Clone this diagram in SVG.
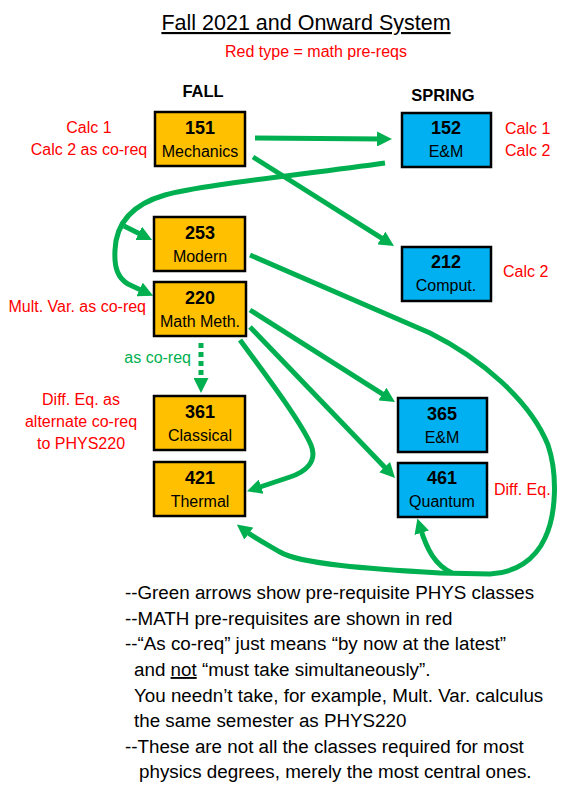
<svg xmlns="http://www.w3.org/2000/svg" width="569" height="789" viewBox="0 0 569 789">
<style>
text{font-family:"Liberation Sans",Arial,sans-serif}
.box rect{stroke:#000;stroke-width:2.5}
.fall rect{fill:#FFC000}
.spring rect{fill:#00B0F0}
.num{font-weight:bold;font-size:18px;text-anchor:middle;fill:#000}
.lbl{font-size:16px;text-anchor:middle;fill:#000}
.red{font-size:16px;fill:#FF0000}
.hdr{font-weight:bold;font-size:16.5px;text-anchor:middle}
.note{font-size:18.8px;fill:#000}
.conn path{fill:none;stroke:#00B050;stroke-width:5;marker-end:url(#ah)}
</style>
<defs>
<marker id="ah" viewBox="0 0 10 10" refX="4" refY="5" markerWidth="3" markerHeight="3" orient="auto">
<path d="M0,0 L10,5 L0,10 z" fill="#00B050"/>
</marker>
</defs>
<rect width="569" height="789" fill="#fff"/>
<text x="306" y="30" font-size="21.5" text-anchor="middle" text-decoration="underline">Fall 2021 and Onward System</text>
<text x="316" y="57" class="red" font-size="15.5" text-anchor="middle">Red type = math pre-reqs</text>
<text x="203" y="97" class="hdr">FALL</text>
<text x="443" y="101" class="hdr">SPRING</text>

<g id="conn" class="conn">
<path d="M255,138 L383,139"/>
<path d="M253,157 L386.4,241.2"/>
<path d="M385,163 C300,175 200,185 165,195 C130,205 116,225 115,250 C114,268 118,278 128,284 L145,292"/>
<path d="M124,226 L144,236"/>
<path d="M250,310 L387.4,397.2"/>
<path d="M250,327 L388.8,471.5"/>
<path d="M240,340 C262,370 300,420 311,445 C318,462 305,472 290,477 L255.5,488.5"/>
<path d="M250,255 L430,333 C480,358 530,400 548,445 C558,475 556,515 545,538 C535,560 515,573 490,574 L440,573 C370,569 300,564 280,552 C270,546 256,539 244,530"/>
<path d="M452,573 C435,565 427,550 420,527"/>
<path d="M201,343 L201,384" stroke-dasharray="5 4"/>
</g>

<g id="n151" class="box fall"><rect x="155" y="112" width="90" height="54"/><text x="200" y="134" class="num">151</text><text x="200" y="157" class="lbl">Mechanics</text></g>
<g id="n253" class="box fall"><rect x="154" y="217" width="91" height="54"/><text x="200" y="239" class="num">253</text><text x="200" y="262" class="lbl">Modern</text></g>
<g id="n220" class="box fall"><rect x="154" y="282" width="92" height="54"/><text x="200" y="304" class="num">220</text><text x="200" y="327" class="lbl">Math Meth.</text></g>
<g id="n361" class="box fall"><rect x="154" y="396" width="91" height="54"/><text x="200" y="418" class="num">361</text><text x="200" y="441" class="lbl">Classical</text></g>
<g id="n421" class="box fall"><rect x="154" y="462" width="91" height="54"/><text x="200" y="484" class="num">421</text><text x="200" y="507" class="lbl">Thermal</text></g>
<g id="n152" class="box spring"><rect x="402" y="113" width="89" height="54"/><text x="446" y="134" class="num">152</text><text x="446" y="157" class="lbl">E&amp;M</text></g>
<g id="n212" class="box spring"><rect x="402" y="247" width="89" height="54"/><text x="446" y="268" class="num">212</text><text x="446" y="291" class="lbl">Comput.</text></g>
<g id="n365" class="box spring"><rect x="398" y="398" width="89" height="54"/><text x="442" y="420" class="num">365</text><text x="442" y="443" class="lbl">E&amp;M</text></g>
<g id="n461" class="box spring"><rect x="398" y="463" width="89" height="54"/><text x="442" y="484" class="num">461</text><text x="442" y="507" class="lbl">Quantum</text></g>

<g id="mathlabels">
<text x="89" y="133" class="red" text-anchor="middle">Calc 1</text>
<text x="89" y="155" class="red" text-anchor="middle">Calc 2 as co-req</text>
<text x="505" y="134" class="red">Calc 1</text>
<text x="505" y="156" class="red">Calc 2</text>
<text x="503" y="277" class="red">Calc 2</text>
<text x="146" y="312" class="red" text-anchor="end">Mult. Var. as co-req</text>
<text x="81" y="405" class="red" text-anchor="middle">Diff. Eq. as</text>
<text x="81" y="427" class="red" text-anchor="middle">alternate co-req</text>
<text x="81" y="449" class="red" text-anchor="middle">to PHYS220</text>
<text x="494" y="495" class="red">Diff. Eq.</text>
<text x="191" y="363" font-size="16" fill="#00B050" text-anchor="end">as co-req</text>
</g>

<g id="notes" class="note">
<text x="125" y="599" class="note">--Green arrows show pre-requisite PHYS classes</text>
<text x="125" y="625" class="note">--MATH pre-requisites are shown in red</text>
<text x="125" y="650" class="note">--“As co-req” just means “by now at the latest”</text>
<text x="134" y="676" class="note">and <tspan text-decoration="underline">not</tspan> “must take simultaneously”.</text>
<text x="134" y="702" class="note">You needn’t take, for example, Mult. Var. calculus</text>
<text x="134" y="727" class="note">the same semester as PHYS220</text>
<text x="125" y="753" class="note">--These are not all the classes required for most</text>
<text x="139" y="778" class="note">physics degrees, merely the most central ones.</text>
</g>
</svg>
